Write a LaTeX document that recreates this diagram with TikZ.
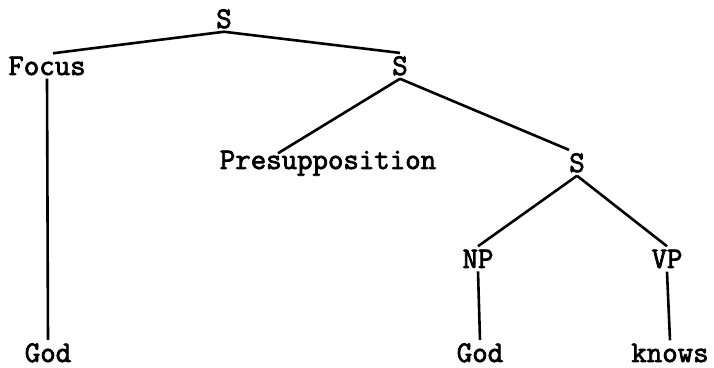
\documentclass[tikz,border=0pt]{standalone}
\usepackage{fontspec}
\newfontfamily\treefont{Latin Modern Mono}[FakeBold=2.5]
\begin{document}
\begin{tikzpicture}[x=0.5pt, y=-0.5pt,
    cat/.style={anchor=base, inner sep=1.5pt, font=\treefont\fontsize{15}{15}\selectfont},
    branch/.style={line width=1.3pt}]
    \useasboundingbox (0,0) rectangle (714,368);

    % categories (baselines)
    \node[cat] (s1) at (224,28) {S};
    \node[cat] (focus) at (47,75) {Focus};
    \node[cat] (s2) at (400,75) {S};
    \node[cat] (pres) at (328,169) {Presupposition};
    \node[cat] (s3) at (577,172) {S};
    \node[cat] (np) at (478,268) {NP};
    \node[cat] (vp) at (667,268) {VP};

    % words
    \node[cat] (godA) at (48,362) {God};
    \node[cat] (godB) at (480,362) {God};
    \node[cat] (knows) at (670,362) {knows};

    % branches
    \draw[branch] (s1.south) -- ([xshift=3pt]focus.north);
    \draw[branch] (s1.south) -- (s2.north);
    \draw[branch] (s2.south) -- ([xshift=-25pt,yshift=-3pt]pres.north);
    \draw[branch] (s2.south) -- ([xshift=-4pt]s3.north);
    \draw[branch] (s3.south) -- (np.north);
    \draw[branch] (s3.south) -- (vp.north);

    \draw[branch] (focus.south) -- (godA.north);
    \draw[branch] (np.south) -- (godB.north);
    \draw[branch] (vp.south) -- (knows.north);
\end{tikzpicture}
\end{document}
